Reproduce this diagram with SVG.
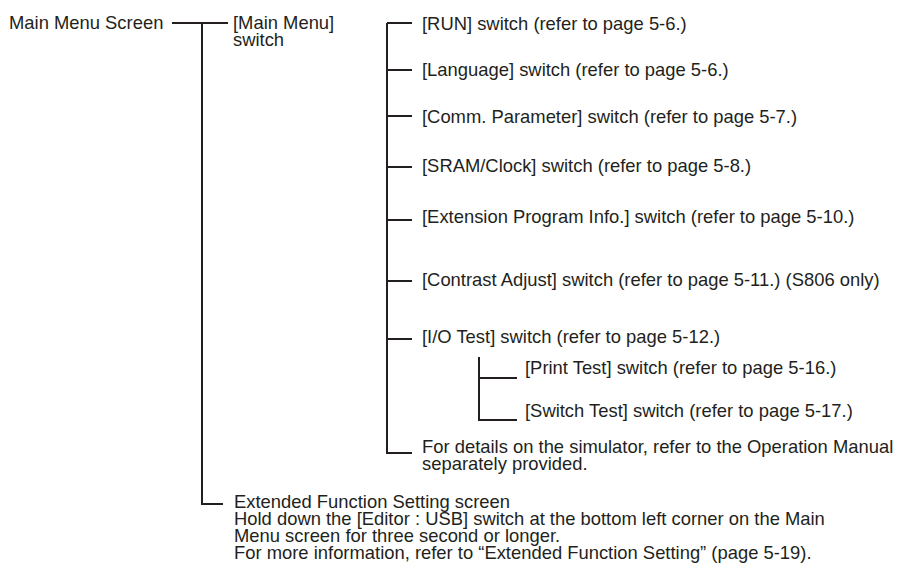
<svg xmlns="http://www.w3.org/2000/svg" width="904" height="575" viewBox="0 0 904 575">
<style>
text{font-family:"Liberation Sans",Arial,sans-serif;font-size:18.4px;fill:#231f20}
.ln{stroke:#231f20;stroke-width:2;fill:none}
</style>
<rect width="904" height="575" fill="#fff"/>
<g id="connectors">
<path class="ln" d="M172,23H228M202,23V504H223"/>
<path class="ln" d="M387,23V453H412M387,23H412M387,70H412M387,116H412M387,167H412M387,220H412M387,281H412M387,339H412"/>
<path class="ln" d="M479,357V420H517M479,378H517"/>
</g>
<g id="main-menu-screen"><text x="9" y="29">Main Menu Screen</text></g>
<g id="main-menu-switch"><text x="233" y="29">[Main Menu]</text><text x="233" y="46">switch</text></g>
<g id="run"><text x="422" y="30">[RUN] switch (refer to page 5-6.)</text></g>
<g id="language"><text x="422" y="76">[Language] switch (refer to page 5-6.)</text></g>
<g id="comm"><text x="422" y="123">[Comm. Parameter] switch (refer to page 5-7.)</text></g>
<g id="sram"><text x="422" y="172">[SRAM/Clock] switch (refer to page 5-8.)</text></g>
<g id="extension"><text x="422" y="223">[Extension Program Info.] switch (refer to page 5-10.)</text></g>
<g id="contrast"><text x="422" y="286">[Contrast Adjust] switch (refer to page 5-11.) (S806 only)</text></g>
<g id="io-test"><text x="422" y="343">[I/O Test] switch (refer to page 5-12.)</text></g>
<g id="print-test"><text x="525" y="374">[Print Test] switch (refer to page 5-16.)</text></g>
<g id="switch-test"><text x="525" y="417">[Switch Test] switch (refer to page 5-17.)</text></g>
<g id="simulator"><text x="422" y="453">For details on the simulator, refer to the Operation Manual</text><text x="422" y="470">separately provided.</text></g>
<g id="extended"><text x="234" y="508">Extended Function Setting screen</text><text x="234" y="525">Hold down the [Editor : USB] switch at the bottom left corner on the Main</text><text x="234" y="542">Menu screen for three second or longer.</text><text x="234" y="559">For more information, refer to “Extended Function Setting” (page 5-19).</text></g>
</svg>
